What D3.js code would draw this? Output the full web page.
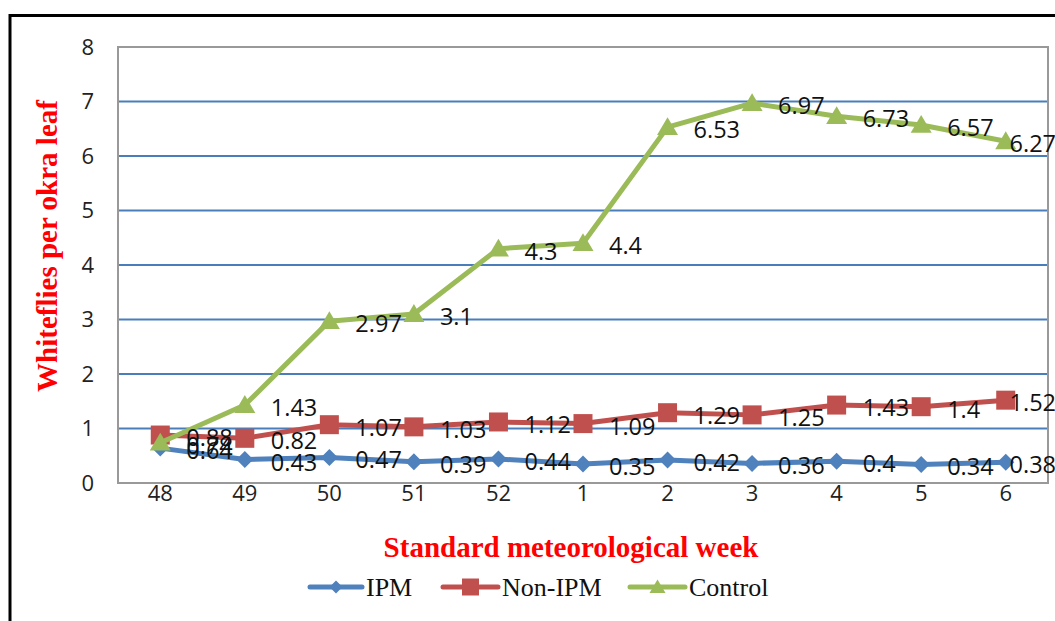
<!DOCTYPE html>
<html>
<head>
<meta charset="utf-8">
<script src="https://cdn.jsdelivr.net/npm/d3@7/dist/d3.min.js"></script>
<style>
  html, body { margin: 0; padding: 0; background: #fff; }
  svg { display: block; }
</style>
</head>
<body>
<svg id="chart" width="1055" height="621"></svg>
<script>
// Standard meteorological weeks (Dec–Feb)
const weeks = ["48", "49", "50", "51", "52", "1", "2", "3", "4", "5", "6"];
// Mean whiteflies per okra leaf
const ipm = [0.64, 0.43, 0.47, 0.39, 0.44, 0.35, 0.42, 0.36, 0.4, 0.34, 0.38];
const nonIpm = [0.88, 0.82, 1.07, 1.03, 1.12, 1.09, 1.29, 1.25, 1.43, 1.4, 1.52];
const control = [0.74, 1.43, 2.97, 3.1, 4.3, 4.4, 6.53, 6.97, 6.73, 6.57, 6.27];
const yTicks = [0, 1, 2, 3, 4, 5, 6, 7, 8];
const seriesNames = ["IPM", "Non-IPM", "Control"];

const series = [
  { name: seriesNames[0], values: ipm, color: "#4f81bd", shape: "diamond" },
  { name: seriesNames[1], values: nonIpm, color: "#c0504d", shape: "square" },
  { name: seriesNames[2], values: control, color: "#9bbb59", shape: "triangle" }
];

const W = 1055, H = 621;
const plot = { left: 118, top: 47, right: 1048, bottom: 483 };
const svg = d3.select("#chart");

// outer frame
svg.append("rect")
  .attr("x", 10).attr("y", 15.5)
  .attr("width", W + 20).attr("height", H + 20)
  .attr("fill", "none").attr("stroke", "#000").attr("stroke-width", 3);

const x = d3.scaleBand().domain(weeks).range([plot.left, plot.right]).padding(0);
const cx = d => x(d) + x.bandwidth() / 2;
const y = d3.scaleLinear().domain([0, 8]).range([plot.bottom, plot.top]);

// horizontal gridlines
svg.append("g")
  .selectAll("line")
  .data(yTicks.filter(t => t > 0 && t < 8))
  .join("line")
  .attr("x1", plot.left).attr("x2", plot.right)
  .attr("y1", d => y(d)).attr("y2", d => y(d))
  .attr("stroke", "#4a7ebb").attr("stroke-width", 2);

// plot area border
svg.append("rect")
  .attr("x", plot.left).attr("y", plot.top)
  .attr("width", plot.right - plot.left).attr("height", plot.bottom - plot.top)
  .attr("fill", "none").attr("stroke", "#999").attr("stroke-width", 2);

const numFont = "'Open Sans', 'Noto Sans', sans-serif";
const serifFont = "'Liberation Serif', 'Times New Roman', serif";

// y axis
const yAxis = svg.append("g")
  .attr("transform", `translate(${plot.left},0)`)
  .call(d3.axisLeft(y).tickValues(yTicks).tickSize(0).tickPadding(24).tickFormat(d3.format("d")));
yAxis.select(".domain").remove();
yAxis.selectAll("text")
  .attr("font-family", numFont).attr("font-size", 22).attr("fill", "#222");

// x axis
const xAxis = svg.append("g")
  .attr("transform", `translate(0,${plot.bottom})`)
  .call(d3.axisBottom(x).tickSize(0).tickPadding(2));
xAxis.select(".domain").remove();
xAxis.selectAll("text")
  .attr("font-family", numFont).attr("font-size", 22).attr("fill", "#222");

// axis titles
svg.append("text")
  .attr("transform", "translate(57,246) rotate(-90)")
  .attr("text-anchor", "middle")
  .attr("font-family", serifFont)
  .attr("font-weight", "bold").attr("font-size", 29).attr("fill", "#ff0000")
  .text("Whiteflies  per okra leaf");

svg.append("text")
  .attr("x", 571).attr("y", 557)
  .attr("text-anchor", "middle")
  .attr("font-family", serifFont)
  .attr("font-weight", "bold").attr("font-size", 29).attr("fill", "#ff0000")
  .text("Standard meteorological week");

function markerShape(shape, size) {
  const h = size / 2;
  if (shape === "diamond") return `M0,${-h}L${h},0L0,${h}L${-h},0Z`;
  if (shape === "square") return `M${-h},${-h}H${h}V${h}H${-h}Z`;
  return `M0,${-h * 0.95}L${h},${h * 0.75}L${-h},${h * 0.75}Z`;
}
const markerSize = { diamond: 17, square: 19, triangle: 21 };

const line = d3.line().x((d, i) => cx(weeks[i])).y(d => y(d));

series.forEach(s => {
  const g = svg.append("g");
  g.append("path")
    .datum(s.values)
    .attr("d", line)
    .attr("fill", "none").attr("stroke", s.color)
    .attr("stroke-width", 5).attr("stroke-linejoin", "round");
  g.selectAll("path.mk")
    .data(s.values)
    .join("path")
    .attr("class", "mk")
    .attr("transform", (d, i) => `translate(${cx(weeks[i])},${y(d)})`)
    .attr("d", markerShape(s.shape, markerSize[s.shape]))
    .attr("fill", s.color);
});

// value labels, placed to the right of each point
series.forEach(s => {
  const g = svg.append("g");
  g.selectAll("text")
    .data(s.values)
    .join("text")
    .attr("font-family", numFont).attr("font-size", 23.5).attr("fill", "#111")
    .attr("dominant-baseline", "central")
    .attr("y", d => y(d) + 2)
    .text(d => String(d))
    .each(function (d, i) {
      const w = this.getComputedTextLength();
      const px = cx(weeks[i]) + 26;
      d3.select(this).attr("x", Math.min(px, W + 1 - w));
    });
});

// legend
const legend = svg.append("g");
const legendItems = [
  { x: 310, tx: 366 },
  { x: 443, tx: 502 },
  { x: 630, tx: 689 }
];
series.forEach((s, i) => {
  const li = legendItems[i];
  const ly = 587;
  legend.append("line")
    .attr("x1", li.x).attr("x2", li.tx - 4)
    .attr("y1", ly).attr("y2", ly)
    .attr("stroke", s.color).attr("stroke-width", 5).attr("stroke-linecap", "round");
  legend.append("path")
    .attr("transform", `translate(${(li.x + li.tx - 4) / 2},${ly})`)
    .attr("d", markerShape(s.shape, s.shape === "diamond" ? 13 : s.shape === "square" ? 17 : 16))
    .attr("fill", s.color);
  legend.append("text")
    .attr("x", li.tx).attr("y", ly)
    .attr("dominant-baseline", "central")
    .attr("font-family", serifFont)
    .attr("font-size", 26).attr("fill", "#111")
    .text(s.name);
});
</script>
</body>
</html>
